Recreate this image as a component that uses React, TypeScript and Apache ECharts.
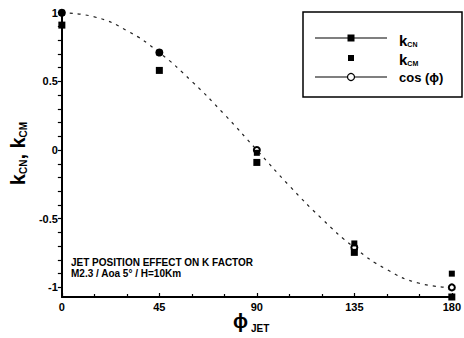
import React, { useEffect, useRef } from "react";
import * as echarts from "echarts";

const phi = [0, 45, 90, 135, 180];
const kCN = [0.91, 0.58, -0.09, -0.745, -1.07];
const kCM = [1.0, 0.71, -0.02, -0.68, -0.9];
const cosPhi = [1.0, 0.71, 0.0, -0.71, -1.0];
// cos curve read at 15° steps (line only)
const cosLineX = [0, 15, 30, 45, 60, 75, 90, 105, 120, 135, 150, 165, 180];
const cosLineY = [1.0, 0.97, 0.87, 0.71, 0.5, 0.26, 0.0, -0.26, -0.5, -0.71, -0.87, -0.97, -1.0];
const xTickLabels = [0, 45, 90, 135, 180];
const yTickLabels = [-1, -0.5, 0, 0.5, 1];
const yMinorTicks = [-1, -0.9, -0.8, -0.7, -0.6, -0.5, -0.4, -0.3, -0.2, -0.1, 0, 0.1, 0.2, 0.3, 0.4, 0.5, 0.6, 0.7, 0.8, 0.9, 1];

const FONT = "Liberation Sans";

export default function App() {
  const ref = useRef<HTMLDivElement>(null);
  useEffect(() => {
    if (!ref.current) return;
    const chart = echarts.init(ref.current, undefined, { renderer: "svg" });
    const cosData = cosLineX.map((x, i) => {
      const idx = phi.indexOf(x);
      return idx >= 0
        ? { value: [x, cosPhi[idx]] }
        : { value: [x, cosLineY[i]], symbol: "none" };
    });
    chart.setOption({
      animation: false,
      backgroundColor: "#fff",
      grid: { left: 58, right: 11, top: 10, bottom: 41, containLabel: false },
      xAxis: {
        type: "value",
        min: 0,
        max: 180,
        interval: 45,
        axisLine: { show: true, onZero: false, lineStyle: { color: "#000", width: 2 } },
        axisTick: { show: true, inside: true, length: 4, lineStyle: { color: "#000", width: 1.2 } },
        minorTick: { show: true, splitNumber: 3, length: 3, lineStyle: { color: "#000", width: 1.2 } },
        splitLine: { show: false },
        axisLabel: {
          color: "#000",
          fontFamily: FONT,
          fontWeight: "bold",
          fontSize: 11,
          margin: 4,
          customValues: xTickLabels,
        },
      },
      yAxis: {
        type: "value",
        min: -1.07,
        max: 1.02,
        axisLine: { show: true, onZero: false, lineStyle: { color: "#000", width: 2 } },
        axisTick: {
          show: true,
          length: 4,
          lineStyle: { color: "#000", width: 1.2 },
          customValues: yMinorTicks,
        },
        splitLine: { show: false },
        axisLabel: {
          color: "#000",
          fontFamily: FONT,
          fontWeight: "bold",
          fontSize: 11,
          margin: 4,
          customValues: yTickLabels,
          formatter: (v: number) => String(v),
        },
        name: "{k|k}{s|CN}{k|, k}{s|CM}",
        nameLocation: "middle",
        nameRotate: 90,
        nameGap: 27,
        nameTextStyle: {
          rich: {
            k: { fontFamily: FONT, fontWeight: "bold", fontSize: 20, color: "#000", lineHeight: 22, verticalAlign: "bottom" },
            s: { fontFamily: FONT, fontWeight: "bold", fontSize: 10, color: "#000", lineHeight: 22, verticalAlign: "bottom" },
          },
        },
      },
      series: [
        {
          name: "cos",
          type: "line",
          data: cosData,
          smooth: true,
          symbol: "emptyCircle",
          symbolSize: 6,
          itemStyle: { color: "#000", borderColor: "#000", borderWidth: 1, opacity: 1 },
          lineStyle: { color: "#222", width: 1.2, type: [3, 5] },
          z: 2,
        },
        {
          name: "kCN",
          type: "scatter",
          data: phi.map((x, i) => [x, kCN[i]]),
          symbol: "rect",
          symbolSize: 7,
          itemStyle: { color: "#000", opacity: 1 },
          z: 3,
        },
        {
          name: "kCM",
          type: "scatter",
          data: phi.map((x, i) => [x, kCM[i]]),
          symbol: "rect",
          symbolSize: 6,
          itemStyle: { color: "#000", opacity: 1 },
          z: 3,
        },
      ],
      graphic: [
        {
          type: "rect",
          shape: { x: 303, y: 12, width: 159, height: 85 },
          style: { fill: "none", stroke: "#000", lineWidth: 1.5 },
        },
        { type: "line", shape: { x1: 315, y1: 38, x2: 387, y2: 38 }, style: { stroke: "#000", lineWidth: 1.2 } },
        { type: "rect", shape: { x: 347.5, y: 34.5, width: 7, height: 7 }, style: { fill: "#000" } },
        {
          type: "text",
          x: 399,
          y: 40,
          style: {
            text: "{k|k}{s|CN}",
            verticalAlign: "middle",
            rich: {
              k: { fontFamily: FONT, fontWeight: "bold", fontSize: 15, fill: "#000", lineHeight: 16, verticalAlign: "bottom" },
              s: { fontFamily: FONT, fontWeight: "bold", fontSize: 7, fill: "#000", lineHeight: 16, verticalAlign: "bottom" },
            },
          },
        },
        { type: "rect", shape: { x: 348, y: 55, width: 6, height: 6 }, style: { fill: "#000" } },
        {
          type: "text",
          x: 399,
          y: 59,
          style: {
            text: "{k|k}{s|CM}",
            verticalAlign: "middle",
            rich: {
              k: { fontFamily: FONT, fontWeight: "bold", fontSize: 15, fill: "#000", lineHeight: 16, verticalAlign: "bottom" },
              s: { fontFamily: FONT, fontWeight: "bold", fontSize: 7, fill: "#000", lineHeight: 16, verticalAlign: "bottom" },
            },
          },
        },
        { type: "line", shape: { x1: 315, y1: 77, x2: 387, y2: 77 }, style: { stroke: "#000", lineWidth: 1.2 } },
        { type: "circle", shape: { cx: 351, cy: 77, r: 3.5 }, style: { fill: "#fff", stroke: "#000", lineWidth: 1.2 } },
        {
          type: "text",
          x: 399,
          y: 77,
          style: {
            text: "cos (\u03d5)",
            fontFamily: FONT,
            fontWeight: "bold",
            fontSize: 13,
            fill: "#000",
            verticalAlign: "middle",
          },
        },
        {
          type: "text",
          x: 71,
          y: 257,
          style: {
            text: "JET POSITION EFFECT ON K FACTOR\nM2.3 / Aoa 5\u00b0 / H=10Km",
            fontFamily: FONT,
            fontWeight: "bold",
            fontSize: 10,
            lineHeight: 11,
            fill: "#000",
          },
        },
        {
          type: "text",
          x: 233,
          y: 311,
          style: { text: "\u03d5", fontFamily: FONT, fontWeight: "bold", fontSize: 20, fill: "#000" },
        },
        {
          type: "text",
          x: 251,
          y: 323,
          style: { text: "JET", fontFamily: FONT, fontWeight: "bold", fontSize: 10, fill: "#000" },
        },
      ],
    });
    return () => chart.dispose();
  }, []);
  return (
    <div
      ref={ref}
      style={{ position: "fixed", left: 0, top: 0, width: 464, height: 338, background: "#fff" }}
    />
  );
}
